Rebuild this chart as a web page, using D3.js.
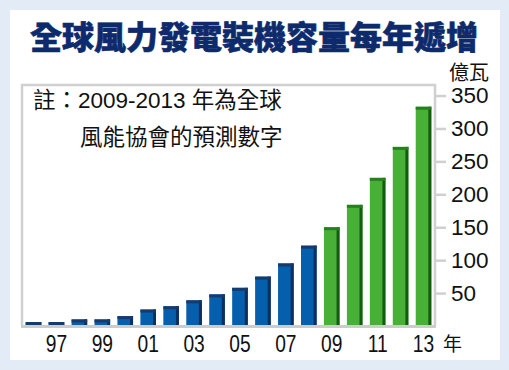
<!DOCTYPE html>
<html>
<head>
<meta charset="utf-8">
<script src="https://cdnjs.cloudflare.com/ajax/libs/d3/7.8.5/d3.min.js"></script>
<style>
  body { margin: 0; background: #e3ebf6; }
  svg { display: block; }
</style>
</head>
<body>
<div class="chart"></div>
<script>
// years 1996 - 2013, installed capacity (億瓦)
var years = ['96','97','98','99','00','01','02','03','04','05','06','07','08','09','10','11','12','13'];
var capacity = [6, 6, 10, 10, 15, 25, 30, 39, 48, 58, 75, 95, 122, 150, 184, 225, 272, 333];
var forecastFrom = 13; // index of first forecast year (2009)
var yTicks = [50, 100, 150, 200, 250, 300, 350];
var xLabels = ['97','99','01','03','05','07','09','11','13'];

var W = 509, H = 370;
var plot = {left: 22, right: 435, top: 85, bottom: 326};

var svg = d3.select('.chart')
  .append('svg')
    .attr('width', W)
    .attr('height', H);

// white card
svg.append('rect')
  .attr('x', 10).attr('y', 10)
  .attr('width', 490).attr('height', 350)
  .attr('fill', '#fff');

svg.append('text')
  .attr('x', 254).attr('y', 49)
  .attr('text-anchor', 'middle')
  .attr('font-family', '"Noto Sans CJK TC", "Noto Sans CJK SC", sans-serif')
  .attr('font-weight', 900)
  .attr('font-size', 32)
  .attr('stroke', '#0c2a6c')
  .attr('stroke-width', 0.6)
  .attr('fill', '#0c2a6c')
  .text('全球風力發電裝機容量每年遞增');

var xScale = d3.scaleBand()
  .domain(years)
  .range([plot.left, plot.right])
  .paddingInner(0.32)
  .paddingOuter(0.16);

var yScale = d3.scaleLinear()
  .domain([0, 366])
  .range([plot.bottom, plot.top]);

// frame
svg.append('path')
  .attr('d', `M${plot.left},${plot.bottom} V${plot.top} H${plot.right} V${plot.bottom}`)
  .attr('fill', 'none')
  .attr('stroke', '#d0d0d0')
  .attr('stroke-width', 2.5);

// note
var note = svg.append('g')
  .attr('font-family', 'Arial, "Liberation Sans", "Noto Sans CJK TC", sans-serif')
  .attr('font-size', 22.5)
  .attr('fill', '#111');
note.append('text').attr('x', 33).attr('y', 108).text('註：2009-2013 年為全球');
note.append('text').attr('x', 80).attr('y', 145).text('風能協會的預測數字');

// bars
var bw = xScale.bandwidth();
var bars = svg.selectAll('.bar')
  .data(years.map((y, i) => ({year: y, value: capacity[i], forecast: i >= forecastFrom})))
  .enter()
  .append('g')
    .attr('class', 'bar');

bars.append('rect')
  .attr('x', d => xScale(d.year))
  .attr('y', d => yScale(d.value))
  .attr('width', bw)
  .attr('height', d => yScale(0) - yScale(d.value))
  .attr('fill', d => d.forecast ? '#49b037' : '#055fad');

bars.append('rect')
  .attr('x', d => xScale(d.year) + bw - 3)
  .attr('y', d => yScale(d.value))
  .attr('width', 3)
  .attr('height', d => yScale(0) - yScale(d.value))
  .attr('fill', d => d.forecast ? '#145c10' : '#0c2f5e');

bars.append('rect')
  .attr('x', d => xScale(d.year))
  .attr('y', d => yScale(d.value))
  .attr('width', bw)
  .attr('height', 3)
  .attr('fill', d => d.forecast ? '#27801f' : '#163a6c');

// bottom axis line
svg.append('line')
  .attr('x1', plot.left - 1).attr('x2', plot.right + 1)
  .attr('y1', plot.bottom + 0.5).attr('y2', plot.bottom + 0.5)
  .attr('stroke', '#cccccc')
  .attr('stroke-width', 3);

// y axis on the right
var yAxis = svg.append('g')
  .attr('transform', `translate(${plot.right}, 0)`)
  .call(d3.axisRight(yScale).tickValues(yTicks).tickSize(11).tickPadding(5));
yAxis.select('.domain').remove();
yAxis.selectAll('line').attr('stroke', '#d0d0d0').attr('stroke-width', 2.5);
yAxis.selectAll('text')
  .attr('font-family', 'Arial, "Liberation Sans", sans-serif')
  .attr('font-size', 22.5)
  .attr('fill', '#111');

// x labels (narrow digits)
var xAxis = svg.append('g')
  .attr('transform', `translate(0, ${plot.bottom})`)
  .call(d3.axisBottom(xScale).tickValues(xLabels).tickSize(0).tickPadding(0));
xAxis.select('.domain').remove();
xAxis.selectAll('text')
  .attr('font-family', 'Arial, "Liberation Sans", sans-serif')
  .attr('font-size', 24)
  .attr('fill', '#111')
  .attr('dy', null)
  .attr('y', 26)
  .attr('transform', 'scale(0.8,1)');

svg.append('text')
  .attr('x', 443).attr('y', 351)
  .attr('font-family', '"Noto Sans CJK TC", sans-serif')
  .attr('font-size', 19)
  .attr('fill', '#111')
  .text('年');

svg.append('text')
  .attr('x', 449).attr('y', 80)
  .attr('font-family', '"Noto Sans CJK TC", sans-serif')
  .attr('font-size', 20)
  .attr('fill', '#111')
  .text('億瓦');
</script>
</body>
</html>
